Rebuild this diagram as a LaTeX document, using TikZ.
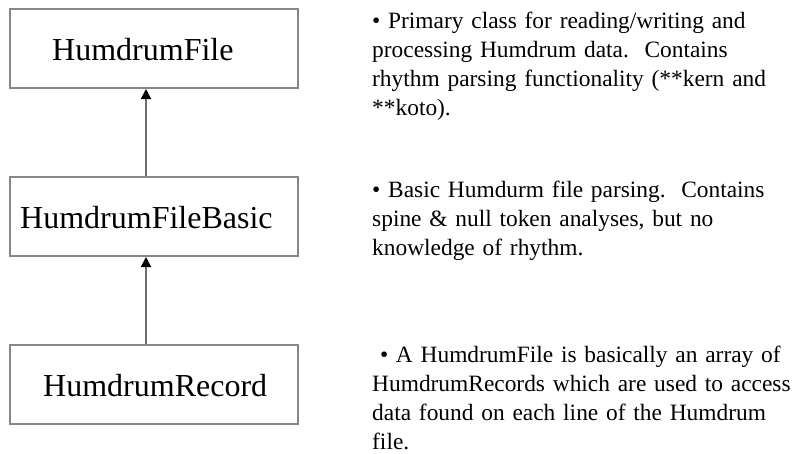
\documentclass[tikz,border=0pt]{standalone}
\usepackage{fontspec}
\setmainfont{Liberation Serif}
\usetikzlibrary{arrows.meta, positioning}
\definecolor{BoxGray}{RGB}{135,135,135}
\definecolor{LinkGray}{RGB}{110,110,110}
\frenchspacing

\begin{document}
\begin{tikzpicture}[x=1pt,y=-1pt,
	cls/.style={draw=BoxGray,line width=2pt,rectangle,minimum width=288pt,minimum height=79pt,inner sep=0pt},
	clsname/.style={anchor=base west,inner sep=0pt,font=\fontsize{32}{38}\selectfont},
	note/.style={anchor=base west,inner sep=0pt,text width=430pt,font=\fontsize{23.4}{29}\selectfont},
	inherit/.style={draw=LinkGray,line width=1.5pt,-{Triangle[length=10pt,width=10pt,color=black]}}]
\useasboundingbox (0,0) rectangle (804,453);
% class boxes
\node[cls] (file) at (154,48.5) {};
\node[cls] (basic) at (154,216.5) {};
\node[cls] (record) at (154,384.5) {};
\node[clsname] (fileName) at (52,60) {HumdrumFile};
\node[clsname] (basicName) at (20,228) {HumdrumFileBasic};
\node[clsname] (recordName) at (43,396) {HumdrumRecord};
% inheritance
\draw[inherit] ([xshift=-8pt]basic.north) -- ([xshift=-8pt]file.south);
\draw[inherit] ([xshift=-8pt]record.north) -- ([xshift=-8pt]basic.south);
% descriptions
\node[note] (fileNote) at (372,28) {\textbullet\ Primary class for reading/writing and\\
processing Humdrum data.\ \ Contains\\
rhythm parsing functionality (**kern and\\
{**}koto).};
\node[note] (basicNote) at (372,197) {\textbullet\ Basic Humdurm file parsing.\ \ Contains\\
spine \& null token analyses, but no\\
knowledge of rhythm.};
\node[note] (recordNote) at (372,362) {\ \textbullet\ A HumdrumFile is basically an array of\\
HumdrumRecords which are used to access\\
data found on each line of the Humdrum\\
file.};
\end{tikzpicture}
\end{document}
